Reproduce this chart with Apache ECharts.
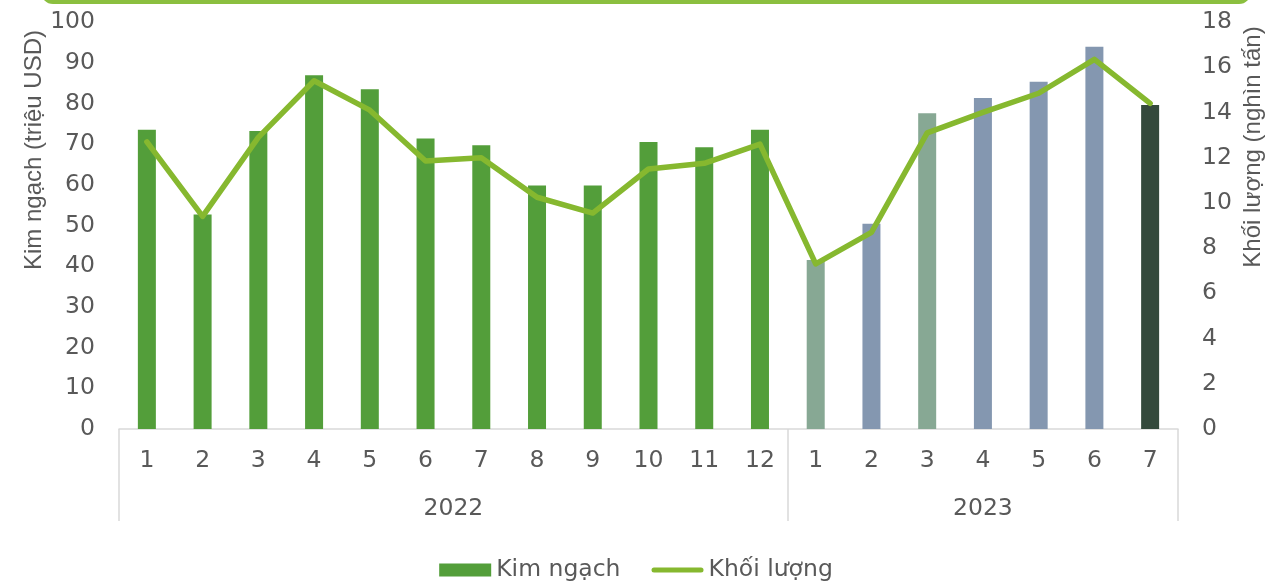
<!DOCTYPE html>
<html>
<head>
<meta charset="utf-8">
<script src="https://cdn.jsdelivr.net/npm/echarts@6/dist/echarts.min.js"></script>
<style>html,body{margin:0;padding:0;background:#fff;}#c{width:1272px;height:585px;}</style>
</head>
<body>
<div id="c"></div>
<script>
// ---- data ----
const years = ['2022', '2023'];
const months2022 = ['1','2','3','4','5','6','7','8','9','10','11','12'];
const months2023 = ['1','2','3','4','5','6','7'];
const kimNgach2022 = [73.5, 52.7, 73.2, 86.9, 83.5, 71.4, 69.7, 59.8, 59.8, 70.5, 69.2, 73.5];
const kimNgach2023 = [41.5, 50.4, 77.6, 81.3, 85.3, 93.9, 79.6];
const khoiLuong2022 = [12.7, 9.4, 12.9, 15.4, 14.1, 11.85, 12.0, 10.25, 9.55, 11.5, 11.75, 12.6];
const khoiLuong2023 = [7.3, 8.7, 13.1, 14.0, 14.85, 16.35, 14.4];
const leftTicks = { min: 0, max: 100, interval: 10 };
const rightTicks = { min: 0, max: 18, interval: 2 };

// ---- styles ----
const green = '#539E3A';
const lineGreen = '#86B82F';
const colors2023 = ['#87A894', '#8497B0', '#87A894', '#8497B0', '#8497B0', '#8497B0', '#34493C'];
const txt = '#595959';
const font = '"DejaVu Sans", sans-serif';
const titleFont = '"Liberation Sans", Arial, sans-serif';
const fs = 23.5;

const months = months2022.concat(months2023);
const kim = kimNgach2022.concat(kimNgach2023);
const khoi = khoiLuong2022.concat(khoiLuong2023);
const n1 = months2022.length, n = months.length;
const yearCenters = [n1 / 2, n1 + months2023.length / 2];

const chart = echarts.init(document.getElementById('c'), null, { renderer: 'canvas' });
chart.setOption({
  animation: false,
  textStyle: { fontFamily: font, color: txt },
  grid: { left: 119, right: 94, top: 22, bottom: 156, containLabel: false },
  legend: {
    top: 553, left: 'center',
    itemWidth: 52, itemHeight: 13, itemGap: 31,
    textStyle: { fontSize: fs, color: txt, fontFamily: font },
    data: [
      { name: 'Kim ngạch', icon: 'rect', itemStyle: { color: green } },
      { name: 'Khối lượng', icon: 'path://M2.5,0 H49.5 A2.5,2.5 0 0 1 49.5,5 H2.5 A2.5,2.5 0 0 1 2.5,0 Z', itemStyle: { color: lineGreen, borderWidth: 0 } }
    ]
  },
  xAxis: [
    {
      type: 'category', data: months, position: 'bottom',
      axisLine: { show: true, lineStyle: { color: '#D9D9D9', width: 1.5 } },
      axisTick: { show: false },
      axisLabel: { fontSize: fs, color: txt, margin: 20, fontFamily: font, interval: 0 }
    },
    {
      type: 'value', min: 0, max: n, position: 'bottom', gridIndex: 0,
      axisLine: { show: false },
      splitLine: { show: false },
      axisTick: { show: true, length: 92, customValues: [0, n1, n], lineStyle: { color: '#D9D9D9', width: 1.5 } },
      axisLabel: {
        fontSize: fs, color: txt, margin: 68, fontFamily: font,
        customValues: yearCenters,
        formatter: v => (v < n1 ? years[0] : years[1])
      }
    }
  ],
  yAxis: [
    {
      type: 'value', min: leftTicks.min, max: leftTicks.max, interval: leftTicks.interval,
      axisLine: { show: false }, axisTick: { show: false }, splitLine: { show: false },
      axisLabel: { fontSize: fs, color: txt, margin: 24, fontFamily: font }
    },
    {
      type: 'value', min: rightTicks.min, max: rightTicks.max, interval: rightTicks.interval,
      position: 'right',
      axisLine: { show: false }, axisTick: { show: false }, splitLine: { show: false },
      axisLabel: { fontSize: fs, color: txt, margin: 24, fontFamily: font }
    }
  ],
  series: [
    {
      name: 'Kim ngạch', type: 'bar', xAxisIndex: 0, yAxisIndex: 0,
      data: kim, barWidth: 18,
      itemStyle: { color: p => (p.dataIndex < n1 ? green : colors2023[p.dataIndex - n1]) }
    },
    {
      name: 'Khối lượng', type: 'line', xAxisIndex: 0, yAxisIndex: 1,
      data: khoi, symbol: 'none', showSymbol: false, z: 5,
      lineStyle: { color: lineGreen, width: 5.5, cap: 'round', join: 'round' },
      itemStyle: { color: lineGreen }
    }
  ],
  graphic: [
    {
      type: 'rect', silent: true,
      shape: { x: 43, y: -60, width: 1206, height: 62, r: 10 },
      style: { fill: 'none', stroke: '#8BBF3F', lineWidth: 4 }
    },
    {
      type: 'text', x: 34, y: 150, rotation: Math.PI / 2,
      style: { text: 'Kim ngạch (triệu USD)', fontSize: 24, fill: txt, fontFamily: titleFont, align: 'center', verticalAlign: 'middle' }
    },
    {
      type: 'text', x: 1253, y: 147, rotation: Math.PI / 2,
      style: { text: 'Khối lượng (nghìn tấn)', fontSize: 24, fill: txt, fontFamily: titleFont, align: 'center', verticalAlign: 'middle' }
    }
  ]
});
</script>
</body>
</html>
